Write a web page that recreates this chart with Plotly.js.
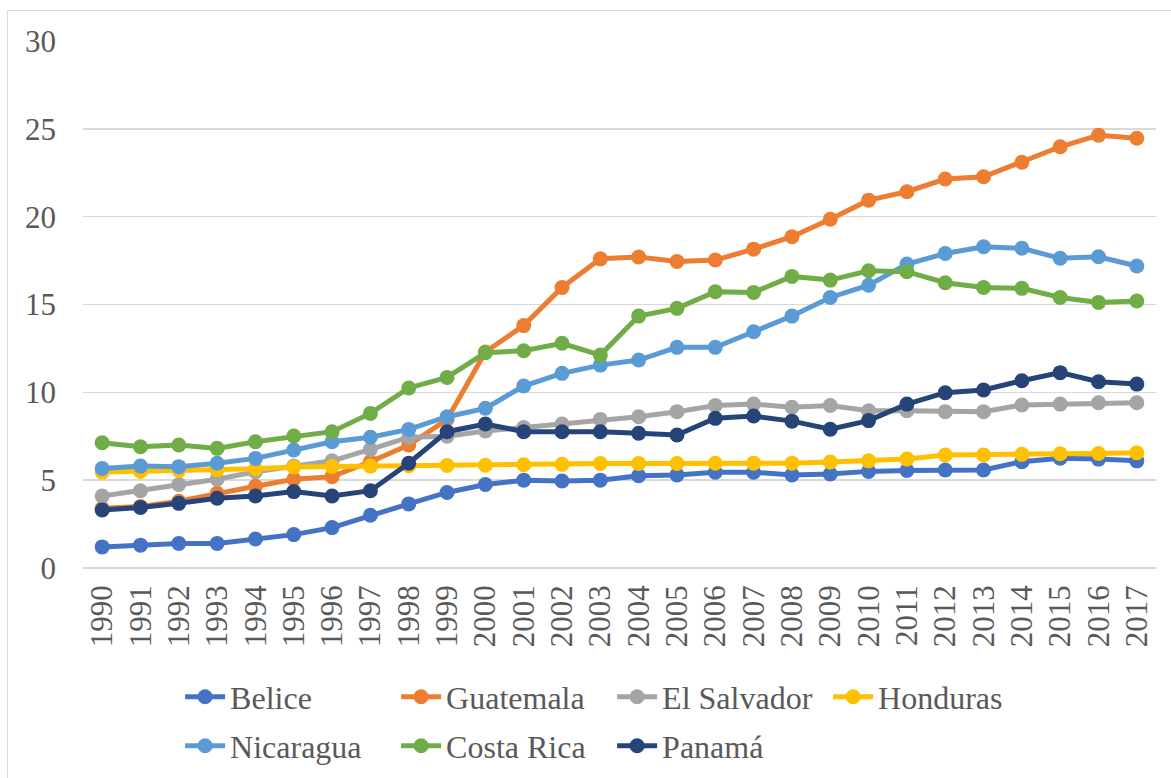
<!DOCTYPE html>
<html>
<head>
<meta charset="utf-8">
<script src="https://cdn.plot.ly/plotly-3.0.1.min.js"></script>
<style>
  html, body { margin: 0; padding: 0; background: #ffffff; }
  #wrap { position: relative; width: 1171px; height: 778px; overflow: hidden; }
  #chart { position: absolute; left: 0; top: 0; width: 1171px; height: 778px; }
  #frame { position: absolute; left: 7px; top: 10px; width: 1200px; height: 800px;
           border-left: 1.5px solid #d9d9d9; border-top: 1.5px solid #d9d9d9; pointer-events: none; }
</style>
</head>
<body>
<div id="wrap">
  <div id="chart"></div>
  <div id="frame"></div>
</div>
<script>
const years = ["1990","1991","1992","1993","1994","1995","1996","1997","1998","1999",
               "2000","2001","2002","2003","2004","2005","2006","2007","2008","2009",
               "2010","2011","2012","2013","2014","2015","2016","2017"];

const belice     = [1.2, 1.3, 1.4, 1.4, 1.65, 1.9, 2.3, 3.0, 3.65, 4.3, 4.75, 5.0, 4.95, 5.0, 5.25, 5.3, 5.45, 5.45, 5.3, 5.35, 5.5, 5.55, 5.58, 5.58, 6.05, 6.25, 6.2, 6.1];
const guatemala  = [3.4, 3.5, 3.8, 4.25, 4.65, 5.05, 5.2, 6.05, 7.0, 8.45, 12.3, 13.8, 15.97, 17.6, 17.7, 17.45, 17.53, 18.15, 18.86, 19.85, 20.94, 21.42, 22.14, 22.27, 23.1, 23.98, 24.64, 24.46];
const elSalvador = [4.1, 4.4, 4.75, 5.05, 5.48, 5.8, 6.1, 6.75, 7.44, 7.5, 7.8, 8.0, 8.2, 8.46, 8.61, 8.9, 9.25, 9.33, 9.15, 9.25, 8.95, 8.95, 8.9, 8.9, 9.28, 9.33, 9.41, 9.41];
const honduras   = [5.46, 5.5, 5.55, 5.6, 5.65, 5.75, 5.78, 5.8, 5.82, 5.84, 5.85, 5.88, 5.9, 5.95, 5.95, 5.95, 5.96, 5.97, 5.97, 6.03, 6.1, 6.2, 6.43, 6.43, 6.47, 6.5, 6.52, 6.56];
const nicaragua  = [5.67, 5.8, 5.77, 5.96, 6.24, 6.72, 7.19, 7.44, 7.89, 8.61, 9.09, 10.36, 11.08, 11.55, 11.84, 12.56, 12.56, 13.45, 14.34, 15.4, 16.1, 17.3, 17.9, 18.29, 18.2, 17.63, 17.72, 17.19];
const costaRica  = [7.13, 6.9, 7.0, 6.81, 7.19, 7.51, 7.76, 8.8, 10.25, 10.85, 12.25, 12.37, 12.79, 12.12, 14.34, 14.78, 15.73, 15.69, 16.6, 16.39, 16.92, 16.87, 16.24, 15.97, 15.92, 15.4, 15.12, 15.2];
const panama     = [3.3, 3.45, 3.68, 3.97, 4.1, 4.35, 4.1, 4.4, 5.96, 7.76, 8.2, 7.76, 7.76, 7.76, 7.67, 7.57, 8.52, 8.65, 8.36, 7.9, 8.39, 9.33, 9.98, 10.13, 10.66, 11.12, 10.6, 10.47];

const names  = ["Belice", "Guatemala", "El Salvador", "Honduras", "Nicaragua", "Costa Rica", "Panamá"];
const series = [belice, guatemala, elSalvador, honduras, nicaragua, costaRica, panama];
const colors = ["#4472C4", "#ED7D31", "#A5A5A5", "#FFC000", "#5B9BD5", "#70AD47", "#264478"];
const legendOf = ["legend", "legend", "legend", "legend", "legend2", "legend2", "legend2"];

const traces = series.map((vals, i) => ({
  type: "scatter",
  mode: "lines+markers",
  name: names[i],
  x: years,
  y: vals,
  legend: legendOf[i],
  line: { color: colors[i], width: 5 },
  marker: { color: colors[i], size: 15 },
  hoverinfo: "x+y+name"
}));

const serifFont = "Liberation Serif";
const legendCommon = {
  orientation: "h",
  xref: "paper", yref: "paper",
  xanchor: "left", yanchor: "middle",
  font: { family: serifFont, size: 32, color: "#595959" },
  bgcolor: "rgba(0,0,0,0)",
  entrywidth: 161,
  entrywidthmode: "pixels",
  itemwidth: 40,
  traceorder: "normal"
};

const layout = {
  width: 1171,
  height: 778,
  margin: { l: 83, r: 15, t: 41, b: 210, pad: 0, autoexpand: false },
  paper_bgcolor: "#ffffff",
  plot_bgcolor: "#ffffff",
  showlegend: true,
  font: { family: serifFont, color: "#595959", size: 31 },
  xaxis: {
    type: "category",
    range: [-0.5, 27.5],
    tickangle: -90,
    ticks: "",
    showgrid: false,
    zeroline: false,
    showline: false,
    automargin: false,
    tickfont: { family: serifFont, size: 31, color: "#595959" },
    ticklabelstandoff: 10,
    fixedrange: true
  },
  yaxis: {
    range: [0, 30],
    dtick: 5,
    tick0: 0,
    showgrid: true,
    gridcolor: "#d9d9d9",
    gridwidth: 1.5,
    zeroline: true,
    zerolinecolor: "#d9d9d9",
    zerolinewidth: 1.5,
    showline: false,
    automargin: false,
    ticks: "",
    tickfont: { family: serifFont, size: 31, color: "#595959" },
    ticklabelstandoff: 26,
    fixedrange: true
  },
  legend: Object.assign({}, legendCommon, { x: 0.0905, y: -0.2446 }),
  legend2: Object.assign({}, legendCommon, { x: 0.0905, y: -0.3377 })
};

Plotly.newPlot("chart", traces, layout, { displayModeBar: false, staticPlot: true });
</script>
</body>
</html>
